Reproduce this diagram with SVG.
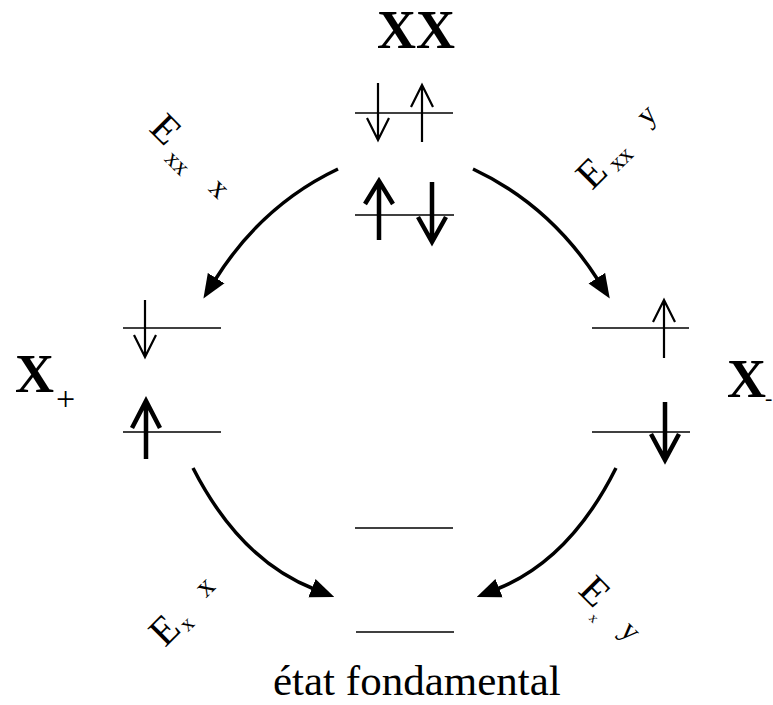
<svg xmlns="http://www.w3.org/2000/svg" width="773" height="705" viewBox="0 0 773 705">
<style>
text{font-family:"Liberation Serif","Times New Roman",serif;fill:#000}
.big{font-size:54px;font-weight:bold}
.lvl{stroke:#000;stroke-width:1.6;fill:none}
.thin{stroke:#000;stroke-width:2.2;fill:none}
.thick{stroke:#000;stroke-width:4.5;fill:none}
.arc{stroke:#000;stroke-width:3.5;fill:none}
</style>
<defs>
<marker id="ah" markerUnits="userSpaceOnUse" markerWidth="24" markerHeight="20" refX="2" refY="9" orient="auto" viewBox="0 0 22 18">
<path d="M0,0 L22,9 L0,18 Z" fill="#000"/>
</marker>
</defs>
<rect width="773" height="705" fill="#fff"/>
<g id="node-XX">
<text class="big" x="416" y="48" text-anchor="middle">XX</text>
<line class="lvl" x1="355" y1="113" x2="453" y2="113"/>
<line class="lvl" x1="355" y1="215" x2="454" y2="215"/>
<path class="thin" d="M378,83 V140 M367,118 L378,140 L389,118"/>
<path class="thin" d="M422,85 V142 M411,107 L422,85 L433,107"/>
<path class="thick" d="M379,181 V240 M365,204 L379,181 L393,204"/>
<path class="thick" d="M432,182 V242 M418,217 L432,242 L446,217"/>
</g>
<g id="node-Xplus">
<text class="big" x="15" y="392">X</text>
<text x="56" y="410" font-size="34">+</text>
<line class="lvl" x1="123" y1="328" x2="221" y2="328"/>
<line class="lvl" x1="123" y1="432" x2="221" y2="432"/>
<path class="thin" d="M145,300 V357 M134,335 L145,357 L156,335"/>
<path class="thick" d="M146,401 V459 M132,428 L146,401 L160,428"/>
</g>
<g id="node-Xminus">
<text class="big" x="727" y="397">X</text>
<text x="765" y="405" font-size="22">-</text>
<line class="lvl" x1="592" y1="328" x2="689" y2="328"/>
<line class="lvl" x1="592" y1="432" x2="690" y2="432"/>
<path class="thin" d="M664,300 V358 M653,322 L664,300 L675,322"/>
<path class="thick" d="M665,402 V460 M651,434 L665,460 L679,434"/>
</g>
<g id="node-ground">
<line class="lvl" x1="355" y1="528" x2="453" y2="528"/>
<line class="lvl" x1="356" y1="632" x2="454" y2="632"/>
<text x="273" y="695" font-size="43">état fondamental</text>
</g>
<g id="connectors">
<path class="arc" d="M338,169 Q262,205 215,280" marker-end="url(#ah)"/>
<path class="arc" d="M473,169 Q550,205 598,280" marker-end="url(#ah)"/>
<path class="arc" d="M193,468 Q240,560 314,589" marker-end="url(#ah)"/>
<path class="arc" d="M616,468 Q570,560 497,589" marker-end="url(#ah)"/>
</g>
<g id="labels">
<text transform="translate(148,130) rotate(45)" font-size="40">E<tspan font-size="24" x="32" y="10">xx</tspan><tspan font-size="30" x="84" y="0">x</tspan></text>
<text transform="translate(592,191) rotate(-45)" font-size="40">E<tspan font-size="24" x="31" y="5">xx</tspan><tspan font-size="30" x="85" y="-6">y</tspan></text>
<text transform="translate(165,648) rotate(-45)" font-size="40">E<tspan font-size="22" x="27" y="5">x</tspan><tspan font-size="30" x="64" y="-6">x</tspan></text>
<text transform="translate(577,592) rotate(45)" font-size="40">E<tspan font-size="14" x="27" y="11">x</tspan><tspan font-size="30" x="58" y="-1">y</tspan></text>
</g>
</svg>
